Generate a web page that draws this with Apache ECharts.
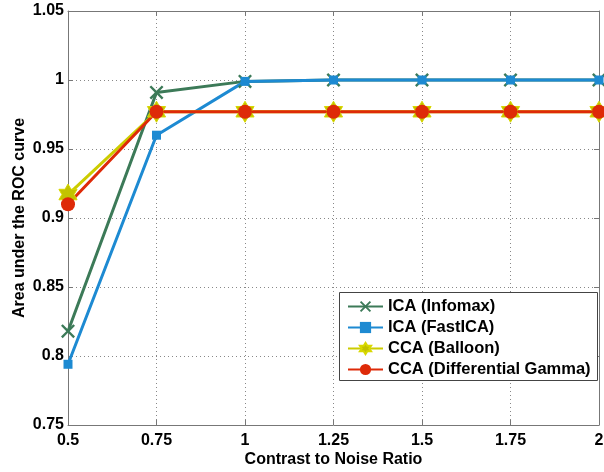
<!DOCTYPE html>
<html>
<head>
<meta charset="utf-8">
<script src="https://cdn.jsdelivr.net/npm/echarts@6/dist/echarts.min.js"></script>
<style>html,body{margin:0;padding:0;background:#fff}#c{width:604px;height:472px}</style>
</head>
<body>
<div id="c"></div>
<script>
var cnr = [0.5, 0.75, 1, 1.25, 1.5, 1.75, 2];
var icaInfomax = [0.818, 0.991, 0.999, 1.0, 1.0, 1.0, 1.0];
var icaFastICA = [0.794, 0.960, 0.999, 1.0, 1.0, 1.0, 1.0];
var ccaBalloon = [0.917, 0.977, 0.977, 0.977, 0.977, 0.977, 0.977];
var ccaGamma = [0.910, 0.977, 0.977, 0.977, 0.977, 0.977, 0.977];
var seriesNames = ['ICA (Infomax)', 'ICA (FastICA)', 'CCA (Balloon)', 'CCA (Differential Gamma)'];

var FONT = 'Liberation Sans, Arial, Helvetica, sans-serif';
var xSym = 'path://M0,1.2L1.2,0L5,3.8L8.8,0L10,1.2L6.2,5L10,8.8L8.8,10L5,6.2L1.2,10L0,8.8L3.8,5Z';
var hexSym = 'path://M5,0L6.443,2.5L9.33,2.5L7.887,5L9.33,7.5L6.443,7.5L5,10L3.557,7.5L0.67,7.5L2.113,5L0.67,2.5L3.557,2.5Z';

function pairs(vals) { return cnr.map(function (x, i) { return [x, vals[i]]; }); }

var axisLineStyle = { color: '#777', width: 1 };
var chart = echarts.init(document.getElementById('c'), null, { renderer: 'canvas' });
chart.setOption({
  animation: false,
  backgroundColor: '#fff',
  grid: { left: 68, right: 5, top: 11, bottom: 47, show: false, containLabel: false, outerBoundsMode: 'none' },
  graphic: [{
    type: 'rect', left: 339, top: 292, z: 5,
    shape: { width: 258, height: 88 },
    style: { fill: '#fff', stroke: '#444', lineWidth: 1 }
  }],
  legend: {
    data: seriesNames,
    orient: 'vertical',
    left: 339, top: 292, z: 10,
    padding: [6, 9, 4, 8],
    itemWidth: 35, itemHeight: 14, itemGap: 4,
    textStyle: { fontFamily: FONT, fontWeight: 'bold', fontSize: 16.5, color: '#000' }
  },
  xAxis: [{
    type: 'value', min: 0.5, max: 2, interval: 0.25,
    name: 'Contrast to Noise Ratio', nameLocation: 'middle', nameGap: 27, nameMoveOverlap: false,
    nameTextStyle: { fontFamily: FONT, fontWeight: 'bold', fontSize: 16, color: '#000' },
    axisLine: { show: true, lineStyle: axisLineStyle },
    axisTick: { show: true, inside: true, length: 5, lineStyle: axisLineStyle },
    axisLabel: { fontFamily: FONT, fontWeight: 'bold', fontSize: 16, color: '#000', margin: 8 },
    splitLine: { show: true, lineStyle: { color: '#888', type: [1, 3], width: 1 } }
  }, {
    type: 'value', position: 'top', min: 0.5, max: 2, interval: 0.25,
    axisLine: { show: true, lineStyle: axisLineStyle },
    axisTick: { show: true, inside: true, length: 5, lineStyle: axisLineStyle },
    axisLabel: { show: false }, splitLine: { show: false }
  }],
  yAxis: [{
    type: 'value', min: 0.75, max: 1.05, interval: 0.05,
    name: 'Area under the ROC curve', nameLocation: 'middle', nameGap: 40, nameMoveOverlap: false,
    nameTextStyle: { fontFamily: FONT, fontWeight: 'bold', fontSize: 16, color: '#000' },
    axisLine: { show: true, lineStyle: axisLineStyle },
    axisTick: { show: true, inside: true, length: 5, lineStyle: axisLineStyle },
    axisLabel: { fontFamily: FONT, fontWeight: 'bold', fontSize: 16, color: '#000', margin: 4 },
    splitLine: { show: true, lineStyle: { color: '#888', type: [1, 3], width: 1 } }
  }, {
    type: 'value', position: 'right', min: 0.75, max: 1.05, interval: 0.05,
    axisLine: { show: true, lineStyle: axisLineStyle },
    axisTick: { show: true, inside: true, length: 5, lineStyle: axisLineStyle },
    axisLabel: { show: false }, splitLine: { show: false }
  }],
  series: [{
    name: seriesNames[0], type: 'line', data: pairs(icaInfomax),
    symbol: xSym, symbolSize: 14, showAllSymbol: true,
    lineStyle: { color: '#3c7a58', width: 3 },
    itemStyle: { color: '#3c7a58' }
  }, {
    name: seriesNames[1], type: 'line', data: pairs(icaFastICA),
    symbol: 'rect', symbolSize: 9,
    lineStyle: { color: '#1d8ad2', width: 3 },
    itemStyle: { color: '#1d8ad2' }
  }, {
    name: seriesNames[2], type: 'line', data: pairs(ccaBalloon),
    symbol: hexSym, symbolSize: 21, symbolKeepAspect: true,
    lineStyle: { color: '#cccc00', width: 3 },
    itemStyle: { color: '#c2c200', borderColor: '#d8d800', borderWidth: 1 }
  }, {
    name: seriesNames[3], type: 'line', data: pairs(ccaGamma),
    symbol: 'circle', symbolSize: 14,
    lineStyle: { color: '#de2a08', width: 3 },
    itemStyle: { color: '#de2a08' }
  }]
});
</script>
</body>
</html>
